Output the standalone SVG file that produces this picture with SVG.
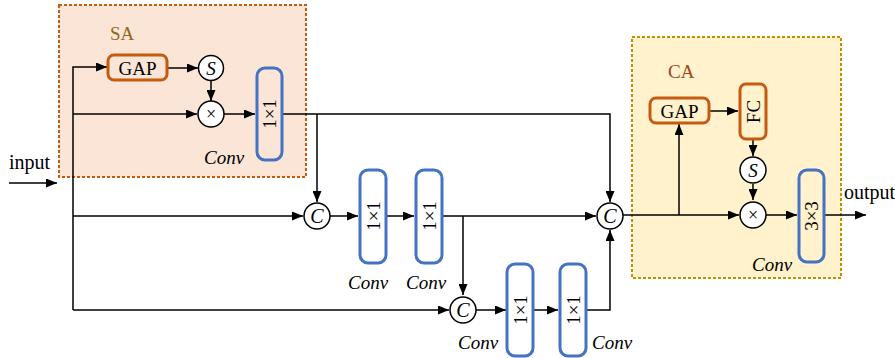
<svg xmlns="http://www.w3.org/2000/svg" width="895" height="358" viewBox="0 0 895 358">
<style>
text{font-family:"Liberation Serif","DejaVu Serif","Times New Roman",serif;fill:#000;}
.i{font-style:italic;}
.ln{stroke:#000;stroke-width:1.5;fill:none;}
.cv{fill:none;stroke:#4472c4;stroke-width:3;}
.og{fill:none;stroke:#c55a11;stroke-width:3;}
.cc{fill:#fff;stroke:#000;stroke-width:1.5;}
</style>
<defs>
<marker id="a" viewBox="0 0 11 9" refX="11" refY="4.5" markerWidth="11" markerHeight="9" markerUnits="userSpaceOnUse" orient="auto">
<path d="M0,0L11,4.5L0,9z" fill="#000"/>
</marker>
</defs>
<g id="SA">
<rect x="59" y="5" width="247" height="172" fill="#fbe5d6" stroke="#c55a11" stroke-width="2" stroke-dasharray="3,2"/>
<text x="110" y="40" font-size="19" style="fill:#8c6a1c">SA</text>
</g>
<g id="CA">
<rect x="632" y="37" width="209" height="241" fill="#fff2cc" stroke="#bf9000" stroke-width="2" stroke-dasharray="3,2"/>
<text x="668" y="78" font-size="19" style="fill:#a0471a">CA</text>
</g>
<g id="connectors">
<path class="ln" d="M9,183H57" marker-end="url(#a)"/>
<path class="ln" d="M73,310V67H107" marker-end="url(#a)"/>
<path class="ln" d="M73,114H197" marker-end="url(#a)"/>
<path class="ln" d="M168,68H198" marker-end="url(#a)"/>
<path class="ln" d="M211,81V101" marker-end="url(#a)"/>
<path class="ln" d="M224,114H255" marker-end="url(#a)"/>
<path class="ln" d="M282,114H610V202" marker-end="url(#a)"/>
<path class="ln" d="M317,114V202" marker-end="url(#a)"/>
<path class="ln" d="M73,216H303" marker-end="url(#a)"/>
<path class="ln" d="M330,216H358" marker-end="url(#a)"/>
<path class="ln" d="M387,216H414" marker-end="url(#a)"/>
<path class="ln" d="M443,216H596" marker-end="url(#a)"/>
<path class="ln" d="M463,216V295" marker-end="url(#a)"/>
<path class="ln" d="M73,310H449" marker-end="url(#a)"/>
<path class="ln" d="M476,310H506" marker-end="url(#a)"/>
<path class="ln" d="M533,310H558" marker-end="url(#a)"/>
<path class="ln" d="M587,310H610V230" marker-end="url(#a)"/>
<path class="ln" d="M623,215H739" marker-end="url(#a)"/>
<path class="ln" d="M679,215V124" marker-end="url(#a)"/>
<path class="ln" d="M710,111H738" marker-end="url(#a)"/>
<path class="ln" d="M753,140V156" marker-end="url(#a)"/>
<path class="ln" d="M753,184V200" marker-end="url(#a)"/>
<path class="ln" d="M766,215H797" marker-end="url(#a)"/>
<path class="ln" d="M825,215H866" marker-end="url(#a)"/>
</g>
<g id="labels">
<text x="9" y="169" font-size="20">input</text>
<text x="844" y="199" font-size="20">output</text>
</g>
<g id="gap1">
<rect class="og" x="108" y="55" width="59" height="25" rx="6"/>
<text x="137.5" y="74.5" font-size="19" text-anchor="middle">GAP</text>
</g>
<g id="s1">
<circle class="cc" cx="211" cy="68" r="12.5"/>
<text class="i" x="211" y="74.5" font-size="19" text-anchor="middle">S</text>
</g>
<g id="mul1">
<circle class="cc" cx="211" cy="114" r="13"/>
<text x="211" y="120" font-size="18" text-anchor="middle">×</text>
</g>
<g id="conv1">
<rect class="cv" x="257" y="68" width="25" height="92" rx="8"/>
<text transform="translate(276,114) rotate(-90)" font-size="19" text-anchor="middle">1×1</text>
<text class="i" x="204" y="164" font-size="19">Conv</text>
</g>
<g id="c1">
<circle class="cc" cx="317" cy="216" r="13"/>
<text class="i" x="317" y="223" font-size="20" text-anchor="middle">C</text>
</g>
<g id="conv2">
<rect class="cv" x="360" y="170" width="26" height="93" rx="8"/>
<text transform="translate(379.5,216) rotate(-90)" font-size="19" text-anchor="middle">1×1</text>
<text class="i" x="348" y="289" font-size="19">Conv</text>
</g>
<g id="conv3">
<rect class="cv" x="416" y="170" width="26" height="93" rx="8"/>
<text transform="translate(435.5,216) rotate(-90)" font-size="19" text-anchor="middle">1×1</text>
<text class="i" x="406" y="289" font-size="19">Conv</text>
</g>
<g id="c2">
<circle class="cc" cx="463" cy="310" r="13"/>
<text class="i" x="463" y="317" font-size="20" text-anchor="middle">C</text>
</g>
<g id="conv4">
<rect class="cv" x="507" y="264" width="26" height="92" rx="8"/>
<text transform="translate(526.5,310) rotate(-90)" font-size="19" text-anchor="middle">1×1</text>
<text class="i" x="458" y="349" font-size="19">Conv</text>
</g>
<g id="conv5">
<rect class="cv" x="560" y="264" width="26" height="92" rx="8"/>
<text transform="translate(579.5,310) rotate(-90)" font-size="19" text-anchor="middle">1×1</text>
<text class="i" x="592" y="349" font-size="19">Conv</text>
</g>
<g id="c3">
<circle class="cc" cx="610" cy="216" r="13"/>
<text class="i" x="610" y="223" font-size="20" text-anchor="middle">C</text>
</g>
<g id="gap2">
<rect class="og" x="650" y="98" width="59" height="25" rx="6"/>
<text x="679.5" y="117.5" font-size="19" text-anchor="middle">GAP</text>
</g>
<g id="fc">
<rect class="og" x="740" y="84" width="26" height="55" rx="6"/>
<text transform="translate(759.5,111.5) rotate(-90)" font-size="19" text-anchor="middle">FC</text>
</g>
<g id="s2">
<circle class="cc" cx="753" cy="170" r="13"/>
<text class="i" x="753" y="176.5" font-size="19" text-anchor="middle">S</text>
</g>
<g id="mul2">
<circle class="cc" cx="753" cy="215" r="13"/>
<text x="753" y="221" font-size="18" text-anchor="middle">×</text>
</g>
<g id="conv6">
<rect class="cv" x="799" y="170" width="25" height="92" rx="8"/>
<text transform="translate(818,216) rotate(-90)" font-size="19" text-anchor="middle">3×3</text>
<text class="i" x="752" y="271" font-size="19">Conv</text>
</g>
</svg>
